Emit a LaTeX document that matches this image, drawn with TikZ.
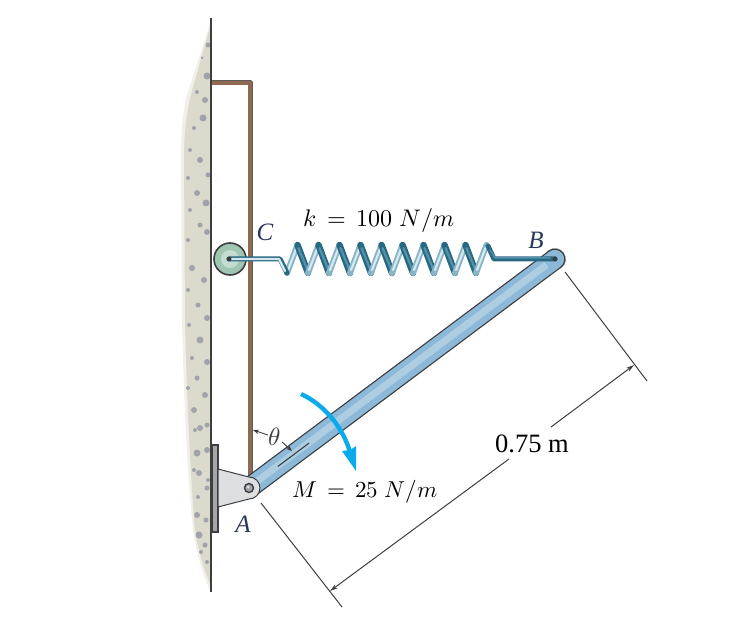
\documentclass[tikz,border=0pt]{standalone}
\usepackage{fontspec}
\usepackage{unicode-math}
\setmainfont{Liberation Serif}
\setmathfont{Latin Modern Math}
\usetikzlibrary{arrows.meta,calc}
\definecolor{wallc}{RGB}{220,218,205}
\definecolor{wallf}{RGB}{240,239,232}
\definecolor{stone}{RGB}{160,164,170}
\definecolor{edge}{RGB}{60,62,66}
\definecolor{brownrod}{RGB}{145,105,80}
\definecolor{barblue}{RGB}{140,185,215}
\definecolor{barlight}{RGB}{172,205,226}
\definecolor{springd}{RGB}{40,105,130}
\definecolor{springm}{RGB}{85,145,170}
\definecolor{springl}{RGB}{135,180,200}
\definecolor{springw}{RGB}{215,232,238}
\definecolor{pulley}{RGB}{160,198,178}
\definecolor{pulleyin}{RGB}{195,222,208}
\definecolor{brack}{RGB}{222,223,225}
\definecolor{plate}{RGB}{165,166,168}
\definecolor{momc}{RGB}{10,170,235}
\definecolor{labelc}{RGB}{40,55,90}
\tikzset{
  dimline/.style={draw=edge,line width=1pt},
  lbl/.style={inner sep=0pt,text=black},
  ptlbl/.style={inner sep=0pt,text=labelc,font=\fontsize{25}{28}\selectfont\itshape},
  grain/.style={fill=stone,draw=none},
  tinyarrow/.style={-{Stealth[length=6pt,width=4.5pt]},draw=edge,line width=0.9pt},
  dimtip/.style={{Stealth[length=8pt,width=4.5pt]}-}
}
\begin{document}
\begin{tikzpicture}[x=1pt,y=-1pt]
\useasboundingbox (0,0) rectangle (749,620);
% wall
\fill[wallf] (211,20) .. controls (205,40) and (195,70) .. (187,95)
  .. controls (182,115) and (181,135) .. (181,160) -- (182,320)
  .. controls (184,400) and (187,470) .. (193,530) .. controls (198,560) and (204,578) .. (211,592) -- cycle;
\fill[wallc] (211,24) .. controls (206,42) and (197,72) .. (191,95)
  .. controls (186,115) and (184,135) .. (184,160) -- (185,320)
  .. controls (187,400) and (190,470) .. (195,530) .. controls (199,555) and (205,572) .. (211,586) -- cycle;
\foreach \x/\y/\r in {208/45/2.5,202/58/1.5,207/76/3.5,197/92/2,205/100/3,203/118/3.5,194/128/2,190/150/2,200/160/3,208/175/2.5,
 188/178/2,197/193/3,206/203/3.5,190/210/2,200/225/2.5,188/240/2,207/232/3,192/268/3,204/280/3,188/290/2,198/305/2.5,
 207/318/3,189/325/2,200/340/3.5,192/358/2,207/362/3,197/378/2.5,188/388/2,205/395/3,194/410/3,207/425/2.5,195/430/2,
 197/453/3.5,207/450/3,194/470/2,199/473/3,207/488/2.5,198/497/2,197/515/3,206/520/2.5,199/535/3.5,205/545/2.5,201/552/2,207/562/2,208/480/2,200/428/3}
  \fill[grain] (\x,\y) circle (\r);
\draw[edge,line width=1.7pt] (211,18) -- (211,592);
% brown strap
\coordinate (S0) at (212,83);
\coordinate (S1) at (250,83);
\coordinate (S2) at (250,480);
\draw[edge!85,line width=5pt,line join=round] (S0) -- (S1) -- (S2);
\draw[brownrod,line width=3.2pt,line join=round] (S0) -- (S1) -- (S2);
% key points
\coordinate (A) at (249,488);
\coordinate (B) at (555,259);
\coordinate (C) at (230,259);
% bar
\begin{scope}[shift={(A)},rotate=36.8]
  \fill[edge!60] (382,0) circle (11);
  \path[fill=barblue,draw=edge,line width=1.1pt] (0,-10) -- (382,-10) arc[start angle=-90,end angle=90,radius=10] -- (0,10) -- cycle;
  \fill[barlight] (8,-4) rectangle (372,3);
  \draw[edge,line width=1.1pt] (36,0) -- (75,0);
\end{scope}
% bracket plate and gusset
\fill[plate,draw=edge,line width=1.1pt] (212,445) rectangle (218,532);
\fill[brack,draw=edge,line width=1pt] (218,469) -- (249,477) arc[start angle=-90,end angle=90,radius=11] -- (218,507) -- cycle;
\fill[stone,draw=edge,line width=1.4pt] (A) circle (4.5);
\fill[white!80!gray] (248,487) circle (1.5);
% spring
\foreach \i in {0,...,9} {
  \pgfmathsetmacro{\xa}{287+\i*21}
  \ifnum\i>0
    \draw[springd,line width=6.5pt,line cap=round] (\xa-10.5,245) -- (\xa,273);
    \draw[springm,line width=2.2pt,line cap=round] (\xa-9.5,248) -- (\xa-0.5,270);
  \fi
  \draw[springl,line width=6pt,line cap=round] (\xa,273) -- (\xa+10.5,245);
  \draw[springw,line width=2.2pt,line cap=round] (\xa+1,270) -- (\xa+9.5,248);
}
\draw[springd,line width=5pt,line cap=round,line join=round] (488,246) -- (494,259) -- (555,259);
\draw[springm,line width=1.5pt,line cap=round,line join=round] (490,250) -- (495,258) -- (550,258);
\fill[edge] (B) circle (2.5);
% pulley C
\fill[pulley,draw=edge,line width=1.6pt] (C) circle (16);
\fill[pulleyin] (C) circle (9);
\draw[springd,line width=5pt,line cap=round,line join=round] (229,259) -- (280,259) -- (287,273);
\draw[springw,line width=2.4pt,line cap=round,line join=round] (229,259) -- (279,259) -- (285,271);
\fill[edge] (229,259) circle (2.5);
% labels
\node[ptlbl] (lC) at (265,232) {C};
\node[ptlbl] (lB) at (536,240) {B};
\node[ptlbl] (lA) at (243,524) {A};
\node[lbl,font=\fontsize{24}{26}\selectfont] (lk) at (379,221) {$k\,=\,100\;N/m$};
\node[lbl,font=\fontsize{23}{26}\selectfont] (lM) at (365,492) {$M\,=\,25\;N/m$};
\node[lbl,font=\fontsize{26.5}{30}\selectfont] (ld) at (532,444) {0.75 m};
\node[lbl,text=edge,font=\fontsize{25}{28}\selectfont] (th) at (275,437) {$\theta$};
% theta arrows
\coordinate (t0) at (268,435);
\coordinate (t1) at (253,430);
\coordinate (t3) at (282,442);
\coordinate (t2) at (292,451);
\draw[tinyarrow] (t0) -- (t1);
\draw[tinyarrow] (t3) -- (t2);
% moment
\coordinate (m1) at (301,394);
\coordinate (m2) at (356,471);
\draw[momc,line width=4.4pt] (m1) .. controls (325,405) and (343,428) .. (350,452);
\fill[momc] (m2) -- (342,451) -- (350,450) -- (356,446) -- cycle;
% dimension
\coordinate (e1) at (565,272);
\coordinate (e2) at (647,381);
\coordinate (e3) at (261,503);
\coordinate (e4) at (342,607);
\coordinate (d1) at (330,591);
\coordinate (d2) at (509,459);
\coordinate (d3) at (551,427);
\coordinate (d4) at (634,365);
\draw[dimline] (e1) -- (e2);
\draw[dimline] (e3) -- (e4);
\draw[dimline,dimtip] (d1) -- (d2);
\draw[dimline,dimtip] (d4) -- (d3);
\end{tikzpicture}
\end{document}
